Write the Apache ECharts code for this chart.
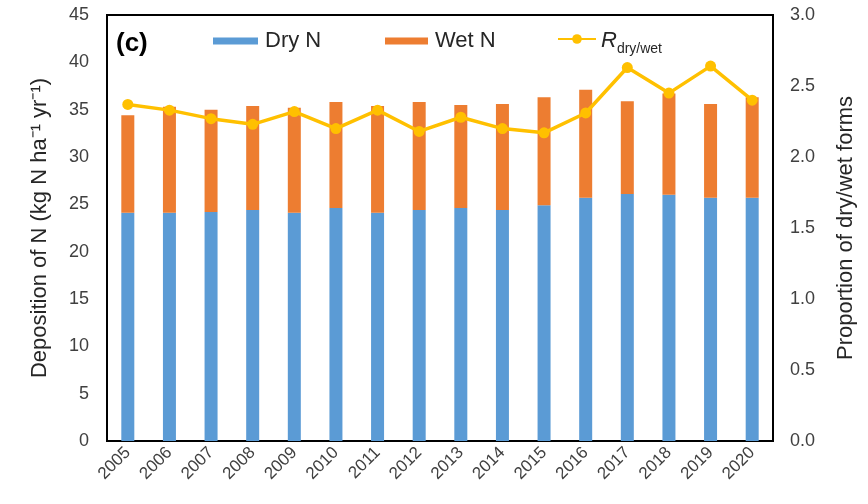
<!DOCTYPE html>
<html>
<head>
<meta charset="utf-8">
<script src="https://cdn.jsdelivr.net/npm/echarts@6/dist/echarts.min.js"></script>
<style>
  html, body { margin: 0; padding: 0; background: #fff; }
  #chart { width: 868px; height: 504px; }
</style>
</head>
<body>
<div id="chart"></div>
<script>
// Annual N deposition split into dry and wet forms, with the dry/wet ratio
const years = ['2005','2006','2007','2008','2009','2010','2011','2012',
               '2013','2014','2015','2016','2017','2018','2019','2020'];
const dryN = [24.1, 24.1, 24.2, 24.4, 24.1, 24.6, 24.1, 24.4,
              24.6, 24.4, 24.9, 25.7, 26.1, 26.0, 25.7, 25.7];
const totalN = [34.4, 35.3, 35.0, 35.4, 35.2, 35.8, 35.4, 35.8,
                35.5, 35.6, 36.3, 37.1, 35.9, 36.7, 35.6, 36.3];
const wetN = totalN.map((t, i) => +(t - dryN[i]).toFixed(2));
const ratio = [2.37, 2.33, 2.27, 2.23, 2.32, 2.20, 2.33, 2.18,
               2.28, 2.20, 2.17, 2.31, 2.63, 2.45, 2.64, 2.40];
const leftTicks = [0, 45, 5];   // min, max, interval
const rightTicks = [0, 3, 0.5];

const FONT = 'Liberation Sans, Arial, sans-serif';
const TXT = '#404040';

const chart = echarts.init(document.getElementById('chart'), null, { renderer: 'canvas' });

const legendBase = {
  top: 30,
  padding: 0,
  itemGap: 0,
  textStyle: { fontFamily: FONT, fontSize: 22, color: '#262626', padding: [0, 0, 0, 2] },
  selectedMode: false
};

chart.setOption({
  animation: false,
  backgroundColor: '#fff',
  title: {
    text: '(c)',
    left: 116,
    top: 31,
    padding: 0,
    textStyle: { fontFamily: FONT, fontSize: 26, fontWeight: 'bold', color: '#000' }
  },
  legend: [
    Object.assign({}, legendBase, {
      left: 213, data: [{ name: 'Dry N', icon: 'rect' }],
      itemWidth: 45, itemHeight: 7
    }),
    Object.assign({}, legendBase, {
      left: 385, data: [{ name: 'Wet N', icon: 'rect' }],
      itemWidth: 43, itemHeight: 7
    }),
    Object.assign({}, legendBase, {
      left: 557, data: ['Rdw'],
      itemWidth: 38, itemHeight: 12,
      formatter: () => '{r|R}{s|dry/wet}',
      textStyle: {
        fontFamily: FONT, color: '#262626',
        rich: {
          r: { fontFamily: FONT, fontSize: 22, fontStyle: 'italic', color: '#262626', lineHeight: 26, verticalAlign: 'bottom' },
          s: { fontFamily: FONT, fontSize: 14, color: '#262626', lineHeight: 26, verticalAlign: 'bottom', padding: [0, 0, -4, 0] }
        }
      }
    })
  ],
  grid: {
    left: 107, right: 95, top: 15, bottom: 63,
    show: true, borderColor: '#000', borderWidth: 2, backgroundColor: 'transparent'
  },
  xAxis: {
    type: 'category',
    data: years,
    axisLine: { show: true, lineStyle: { color: '#000', width: 2 } },
    axisTick: { show: false },
    axisLabel: {
      rotate: 45, interval: 0, margin: 9,
      fontFamily: FONT, fontSize: 17, color: TXT
    }
  },
  yAxis: [
    {
      type: 'value',
      min: leftTicks[0], max: leftTicks[1], interval: leftTicks[2],
      name: 'Deposition of N (kg N ha\u207B\u00B9 yr\u207B\u00B9)',
      nameLocation: 'middle', nameGap: 56,
      nameTextStyle: { fontFamily: FONT, fontSize: 22, color: '#262626' },
      axisLine: { show: true, lineStyle: { color: '#000', width: 2 } },
      axisTick: { show: false },
      splitLine: { show: false },
      axisLabel: { margin: 18, fontFamily: FONT, fontSize: 18, color: TXT }
    },
    {
      type: 'value',
      min: rightTicks[0], max: rightTicks[1], interval: rightTicks[2],
      name: 'Proportion of dry/wet forms',
      nameLocation: 'middle', nameGap: 62,
      nameRotate: 90,
      nameTextStyle: { fontFamily: FONT, fontSize: 22, color: '#262626' },
      axisLine: { show: true, lineStyle: { color: '#000', width: 2 } },
      axisTick: { show: false },
      splitLine: { show: false },
      axisLabel: {
        margin: 17, fontFamily: FONT, fontSize: 18, color: TXT,
        formatter: v => v.toFixed(1)
      }
    }
  ],
  series: [
    {
      name: 'Dry N', type: 'bar', stack: 'n', data: dryN,
      barWidth: 13, itemStyle: { color: '#5B9BD5' }
    },
    {
      name: 'Wet N', type: 'bar', stack: 'n', data: wetN,
      barWidth: 13, itemStyle: { color: '#ED7D31' }
    },
    {
      name: 'Rdw', type: 'line', yAxisIndex: 1, data: ratio,
      symbol: 'circle', symbolSize: 11,
      lineStyle: { color: '#FFC000', width: 3.5 },
      itemStyle: { color: '#FFC000' },
      z: 5
    }
  ]
});
</script>
</body>
</html>
